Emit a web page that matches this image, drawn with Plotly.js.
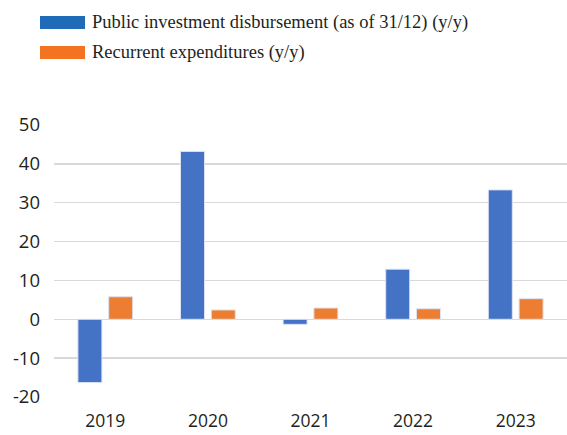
<!DOCTYPE html>
<html><head><meta charset="utf-8">
<script src="https://cdn.plot.ly/plotly-3.0.1.min.js"></script>
<style>html,body{margin:0;padding:0;background:#fff}#c{width:567px;height:435px}</style>
</head><body><div id="c"></div>
<script>
const categories = ['2019', '2020', '2021', '2022', '2023'];
const seriesNames = ['Public investment disbursement (as of 31/12) (y/y)', 'Recurrent expenditures (y/y)'];
const publicInvestment = [-16.3, 43.2, -1.3, 12.9, 33.3];
const recurrentExpenditures = [5.8, 2.4, 2.9, 2.7, 5.3];
const yTicks = [-20, -10, 0, 10, 20, 30, 40, 50];

const barColors = ['#4472c4', '#ed7d31'];
const legendColors = ['#1f6bb8', '#f47321'];

const traces = [publicInvestment, recurrentExpenditures].map((vals, i) => ({
  type: 'bar', x: categories, y: vals, name: seriesNames[i],
  marker: {color: barColors[i], line: {color: '#dbe3f3', width: 1}},
  showlegend: false, hoverinfo: 'skip'
}));

const W = 567, H = 435, ml = 54, mr = 0, mt = 125, mb = 38;
const pw = W - ml - mr, ph = H - mt - mb;
const px = x => (x - ml) / pw;
const py = y => (H - mb - y) / ph;
const shapes = [], annotations = [];
seriesNames.forEach((n, i) => {
  const top = 16 + i * 30;
  shapes.push({type: 'rect', xref: 'paper', yref: 'paper', layer: 'above',
    x0: px(40), x1: px(85), y0: py(top + 13), y1: py(top), line: {width: 0}, fillcolor: legendColors[i]});
  annotations.push({xref: 'paper', yref: 'paper', x: px(90), y: py(top + 6.5), xanchor: 'left', yanchor: 'middle',
    text: n, showarrow: false, font: {family: 'Liberation Serif', size: 18.5, color: '#231f20'}});
});

const layout = {
  width: W, height: H,
  margin: {l: ml, r: mr, t: mt, b: mb, pad: 0},
  paper_bgcolor: '#fff', plot_bgcolor: '#fff',
  barmode: 'group', bargap: 0.4, bargroupgap: 0.22,
  font: {family: 'Open Sans', size: 18, color: '#231f20'},
  xaxis: {type: 'category', showgrid: false, showline: false, zeroline: false, ticks: '', ticklabelstandoff: 11,
    tickfont: {family: 'Open Sans', size: 17.5, color: '#231f20'}},
  yaxis: {range: [-20, 50], tickvals: yTicks, ticktext: yTicks.map(String), showgrid: true,
    gridcolor: '#d9d9d9', gridwidth: 1.5, zeroline: true, zerolinecolor: '#d9d9d9', zerolinewidth: 1.5,
    showline: false, ticks: '', ticklabelstandoff: 13,
    tickfont: {family: 'Open Sans', size: 18.5, color: '#231f20'}},
  shapes, annotations, showlegend: false
};
Plotly.newPlot('c', traces, layout, {displayModeBar: false, staticPlot: true});
</script>
</body></html>
